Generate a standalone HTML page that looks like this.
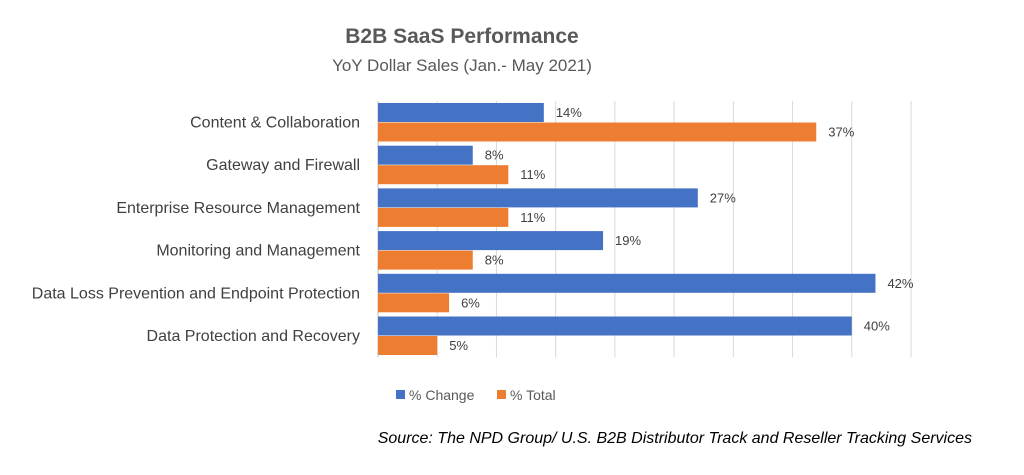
<!DOCTYPE html>
<html><head><meta charset="utf-8"><style>
body{margin:0;background:#fff;width:1024px;height:470px;overflow:hidden;font-family:"Liberation Sans",sans-serif}
</style></head><body>
<svg width="1024" height="470" font-family="Liberation Sans, sans-serif">
<text x="462" y="43" text-anchor="middle" font-size="21" font-weight="bold" fill="#595959">B2B SaaS Performance</text>
<text x="462" y="71" text-anchor="middle" font-size="17" fill="#595959">YoY Dollar Sales (Jan.- May 2021)</text>
<g id="grid"></g><g id="bars"></g><g id="cats"></g>
<g>
<rect x="396" y="390" width="9" height="9" fill="#4472C4"/>
<text x="409" y="400" font-size="14" fill="#595959">% Change</text>
<rect x="497" y="390" width="9" height="9" fill="#ED7D31"/>
<text x="510" y="400" font-size="14" fill="#595959">% Total</text>
</g>
<text x="972" y="443" text-anchor="end" font-size="16" font-style="italic" fill="#000">Source: The NPD Group/ U.S. B2B Distributor Track and Reseller Tracking Services</text>
</svg>
<script>
const categories=["Content & Collaboration","Gateway and Firewall","Enterprise Resource Management","Monitoring and Management","Data Loss Prevention and Endpoint Protection","Data Protection and Recovery"];
const changeValues=[14,8,27,19,42,40];
const totalValues=[37,11,11,8,6,5];
const ticks=[0,5,10,15,20,25,30,35,40,45];
const NS="http://www.w3.org/2000/svg";
const x0=378,x1=911,xmax=45,yTop=101,band=42.7;
const xs=v=>x0+(x1-x0)*v/xmax;
function mk(t,a,p){const e=document.createElementNS(NS,t);for(const k in a)e.setAttribute(k,a[k]);document.getElementById(p).appendChild(e);return e;}
ticks.forEach(t=>{const l=mk('line',{x1:xs(t),x2:xs(t),y1:yTop,y2:yTop+band*6,stroke:t===0?'#bfbfbf':'#d9d9d9','stroke-width':1},'grid');

});
categories.forEach((c,i)=>{const y=yTop+band*i+2;
const t=mk('text',{x:360,y:y+24.5,'text-anchor':'end','font-size':16,fill:'#404040'},'cats');t.textContent=c;


[[changeValues[i],'#4472C4',0,'change'],[totalValues[i],'#ED7D31',19.5,'total']].forEach(([v,col,off,nm])=>{
const r=mk('rect',{x:x0,y:y+off,width:xs(v)-x0,height:19,fill:col},'bars');


const lb=mk('text',{x:xs(v)+12,y:y+off+14,'font-size':13,fill:'#404040'},'bars');lb.textContent=v+'%';

});});
</script>
</body></html>
